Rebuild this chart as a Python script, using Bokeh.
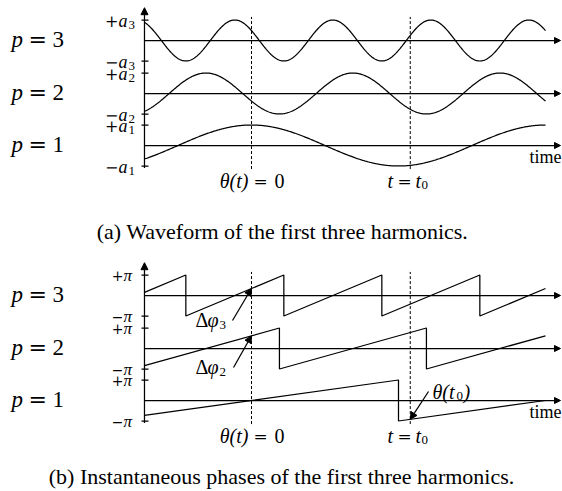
import numpy as np
from bokeh.plotting import figure
from bokeh.models import Range1d, Arrow, NormalHead
from bokeh.core.properties import value
from bokeh.embed import file_html
from bokeh.resources import INLINE

# ---------------- data ----------------
harmonics = [1, 2, 3]
amplitudes = [1.0, 1.0, 1.0]                      # a_p (normalised)
phase_offsets = [0.0, 0.62 * np.pi, 0.34 * np.pi]  # Δφ_p at θ(t)=0
t_start, t_end = -0.364, 1.0                       # time span (fundamental periods)
t0 = 0.54                                          # marked instant t = t0
amp_symbol = "a"
phase_symbol = "π"
row_names = ["1", "2", "3"]
caption_a = "(a) Waveform of the first three harmonics."
caption_b = "(b) Instantaneous phases of the first three harmonics."

# ---------------- layout helpers ----------------
W, H = 562, 491


def X(px):
    return (px - 251.0) / 294.0


def Y(py):
    return (491.0 - py) / 20.5


def PY(y):
    return 491.0 - y * 20.5


base_a = [Y(145), Y(93), Y(40)]
base_b = [Y(400), Y(348), Y(295)]

SERIF = "Liberation Serif"
SYM = "DejaVu Serif"
BLACK = "black"
LW = 1.25

fig = figure(width=W, height=H, x_range=Range1d(X(0), X(W)),
             y_range=Range1d(Y(H), Y(0)), output_backend="svg",
             toolbar_location=None, min_border=0,
             x_axis_location=None, y_axis_location=None)
fig.grid.visible = False
fig.outline_line_color = None
fig.background_fill_color = "white"
fig.border_fill_color = "white"


def wrap(ph):
    return (ph + np.pi) % (2 * np.pi) - np.pi


def arrow(x0, y0, x1, y1, size=7):
    fig.add_layout(Arrow(end=NormalHead(size=size, fill_color=BLACK, line_color=BLACK, line_width=1),
                         x_start=x0, y_start=y0, x_end=x1, y_end=y1,
                         line_color=BLACK, line_width=LW))


def txt(px, py, s, size=15, align="left", style="normal", font=SERIF):
    fig.text(x=[X(px)], y=[Y(py)], text=[s], text_font=value(font), text_font_size=f"{size}px",
             text_align=align, text_baseline="middle", text_font_style=style,
             text_color=BLACK)


for panel, bases in (("a", base_a), ("b", base_b)):
    # vertical axis
    top = bases[2] + 1 + 0.6
    bot = bases[0] - 1 - 0.1
    arrow(t_start, bot, t_start, top, size=7)
    for i, hp in enumerate(harmonics):
        b = bases[i]
        bpy = PY(b)
        # time axis line
        arrow(t_start, b, X(560), b, size=6)
        # ticks
        fig.segment(x0=[X(141)] * 2, x1=[X(148)] * 2, y0=[b + 1, b - 1], y1=[b + 1, b - 1],
                    line_color=BLACK, line_width=LW)
        for sgn in ("+", "−"):
            tpy = PY(b + (1 if sgn == "+" else -1))
            if panel == "a":
                txt(118, tpy + 0.5, sgn, size=16, align="right", font=SYM)
                txt(118, tpy + 0.5, amp_symbol, size=18, style="italic")
                txt(128, tpy + 4.5, row_names[i], size=13)
            else:
                txt(123, tpy, sgn, size=14, align="right", font=SYM)
                txt(123, tpy, phase_symbol, size=17, style="italic")
        # row label p = n
        txt(11, bpy - 1, "p", size=23, style="italic")
        txt(28, bpy - 1, "=", size=22, font=SYM)
        txt(52, bpy - 1, row_names[i], size=23)
        if panel == "a":
            t = np.linspace(t_start, t_end, 600)
            y = b + amplitudes[i] * np.cos(2 * np.pi * hp * t + phase_offsets[i])
            fig.line(t, y, line_color=BLACK, line_width=LW)
        else:
            ph = lambda tt: 2 * np.pi * hp * tt + phase_offsets[i]
            xs = [t_start]
            ys = [b + wrap(ph(t_start)) / np.pi]
            k0 = int(np.ceil((ph(t_start) - np.pi) / (2 * np.pi)))
            k1 = int(np.floor((ph(t_end) - np.pi) / (2 * np.pi)))
            for k in range(k0, k1 + 1):
                tw = (np.pi + 2 * np.pi * k - phase_offsets[i]) / (2 * np.pi * hp)
                if t_start < tw < t_end:
                    xs += [tw, tw]
                    ys += [b + 1, b - 1]
            xs.append(t_end)
            ys.append(b + wrap(ph(t_end)) / np.pi)
            fig.line(xs, ys, line_color=BLACK, line_width=LW)

    # dashed markers
    dtop = bases[2] + 1.15
    dbot = bases[0] - 1.15
    fig.segment(x0=[0, t0], x1=[0, t0], y0=[dbot, dbot], y1=[dtop, dtop],
                line_color=BLACK, line_width=1, line_dash="3 2")
    lpy = PY(bases[0]) + 35
    txt(248, lpy, "θ(t)", size=20, align="right", style="italic")
    txt(253, lpy, "=", size=17, font=SYM)
    txt(274, lpy, "0", size=20)
    txt(387, lpy, "t", size=20, style="italic")
    txt(397, lpy, "=", size=17, font=SYM)
    txt(415, lpy, "t", size=20, style="italic")
    txt(421, lpy + 4, "0", size=13)
    # time label
    txt(561, PY(bases[0]) + 11, "time", size=18, align="right")

# annotations in panel b
y3 = base_b[2] + wrap(phase_offsets[2]) / np.pi
y2 = base_b[1] + wrap(phase_offsets[1]) / np.pi
y1 = base_b[0] + wrap(2 * np.pi * t0) / np.pi
arrow(X(232), Y(320), 0, y3, size=7)
arrow(X(233), Y(367), 0, y2, size=7)
arrow(X(428), Y(391), t0, y1, size=7)
txt(195, 319, "Δ", size=20)
txt(207, 319, "φ", size=20, style="italic")
txt(219, 324, "3", size=13)
txt(195, 366, "Δ", size=20)
txt(207, 366, "φ", size=20, style="italic")
txt(219, 371, "2", size=13)
txt(432, 391, "θ(t", size=20, style="italic")
txt(456, 395, "0", size=13)
txt(463, 391, ")", size=20, style="italic")

# captions
txt(282, 231, caption_a, size=22, align="center")
txt(281, 476, caption_b, size=22, align="center")

open("out.html", "w").write(file_html(fig, INLINE))
